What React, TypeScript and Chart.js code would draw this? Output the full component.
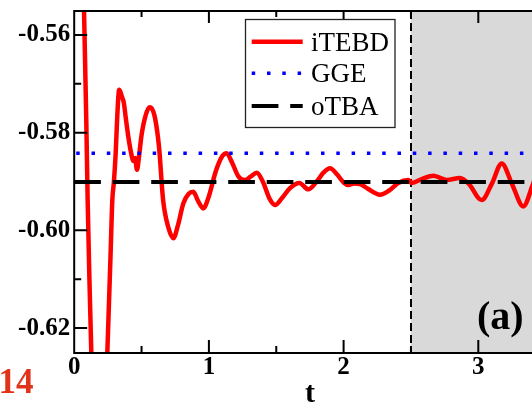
import React, { useEffect, useRef } from "react";
import { Chart, registerables } from "chart.js";

Chart.register(...registerables);

// ---- data ----
const tValues = [
  0, 0.04, 0.073, 0.09, 0.1, 0.113, 0.127, 0.15, 0.175, 0.2, 0.225, 0.246, 0.27, 0.283, 0.295, 0.308,
  0.32, 0.334, 0.345, 0.355, 0.368, 0.382, 0.4, 0.42, 0.44, 0.452, 0.466, 0.48, 0.5, 0.53, 0.56, 0.575,
  0.6, 0.63, 0.66, 0.7, 0.736, 0.77, 0.81, 0.85, 0.884, 0.92, 0.958, 1.0, 1.05, 1.1, 1.132, 1.17,
  1.22, 1.268, 1.31, 1.355, 1.4, 1.45, 1.491, 1.54, 1.6, 1.671, 1.738, 1.8, 1.85, 1.899, 1.95, 2.0,
  2.035, 2.08, 2.122, 2.18, 2.27, 2.34, 2.406, 2.48, 2.506, 2.58, 2.667, 2.72, 2.765, 2.864, 2.93,
  3.025, 3.1, 3.174, 3.25, 3.334, 3.4, 3.45,
];
const iTEBDValues = [
  -0.47, -0.51, -0.5551, -0.578, -0.594, -0.61, -0.625, -0.648, -0.66, -0.657, -0.642, -0.625, -0.605,
  -0.5938, -0.59, -0.5842, -0.5765, -0.5712, -0.5718, -0.5727, -0.5738, -0.5768, -0.5805, -0.5838, -0.5858,
  -0.5852, -0.5876, -0.5852, -0.5805, -0.5765, -0.5748, -0.575, -0.577, -0.583, -0.5938, -0.5995, -0.6016,
  -0.599, -0.5945, -0.5925, -0.5921, -0.594, -0.5955, -0.593, -0.588, -0.5848, -0.5842, -0.586, -0.589,
  -0.5897, -0.589, -0.5882, -0.59, -0.5935, -0.5948, -0.5935, -0.5914, -0.5903, -0.5916, -0.59,
  -0.5882, -0.5873, -0.5885, -0.5902, -0.5907, -0.5904, -0.5905, -0.5915, -0.5927, -0.5918, -0.5903,
  -0.5897, -0.5903, -0.5895, -0.5888, -0.5893, -0.5897, -0.5893, -0.5905, -0.5938, -0.5905, -0.5863,
  -0.5905, -0.5951, -0.591, -0.587,
];
const ggeLevel = -0.5842;
const otbaLevel = -0.5901;
const seriesLabels = ["iTEBD", "GGE", "oTBA"];
const xTicks = [0, 1, 2, 3];
const xMinorTicks = [0.5, 1.5, 2.5, 3.5];
const yTicks = [-0.62, -0.6, -0.58, -0.56];
const yMinorTicks = [-0.61, -0.59, -0.57];
const shadeFrom = 2.5;
const panelLabel = "(a)";
const pageNumber = "14";
const xTitle = "t";

const SERIF = "'Liberation Serif', 'Times New Roman', serif";

const decor = {
  id: "decor",
  beforeDraw(chart: any) {
    const { ctx, chartArea: a, scales } = chart;
    const xs = scales.x.getPixelForValue(shadeFrom);
    ctx.save();
    ctx.fillStyle = "#d9d9d9";
    ctx.fillRect(xs, a.top, a.right - xs, a.bottom - a.top);
    ctx.restore();
  },
  beforeDatasetsDraw(chart: any) {
    const { ctx, chartArea: a, scales } = chart;
    const xs = Math.round(scales.x.getPixelForValue(shadeFrom));
    ctx.save();
    ctx.strokeStyle = "#000";
    ctx.lineWidth = 2;
    ctx.setLineDash([8, 4]);
    ctx.beginPath();
    ctx.moveTo(xs, a.top);
    ctx.lineTo(xs, a.bottom);
    ctx.stroke();
    ctx.restore();
  },
  afterDraw(chart: any) {
    const { ctx, chartArea: a, scales } = chart;
    const x = scales.x;
    const y = scales.y;
    ctx.save();
    ctx.strokeStyle = "#000";
    ctx.lineWidth = 2;
    ctx.setLineDash([]);
    ctx.beginPath();
    // axes frame
    ctx.moveTo(a.left, a.top);
    ctx.lineTo(a.left, a.bottom);
    ctx.moveTo(a.left - 1, a.bottom);
    ctx.lineTo(a.right, a.bottom);
    ctx.moveTo(a.left - 1, a.top);
    ctx.lineTo(a.right, a.top);
    ctx.moveTo(a.right, a.top);
    ctx.lineTo(a.right, a.bottom);
    // ticks
    xTicks.forEach((v) => {
      const px = x.getPixelForValue(v);
      ctx.moveTo(px, a.bottom);
      ctx.lineTo(px, a.bottom - 13);
      ctx.moveTo(px, a.top);
      ctx.lineTo(px, a.top + 12);
    });
    xMinorTicks.forEach((v) => {
      const px = x.getPixelForValue(v);
      ctx.moveTo(px, a.bottom);
      ctx.lineTo(px, a.bottom - 7);
      ctx.moveTo(px, a.top);
      ctx.lineTo(px, a.top + 6);
    });
    yTicks.forEach((v) => {
      const py = y.getPixelForValue(v);
      ctx.moveTo(a.left, py);
      ctx.lineTo(a.left + 13, py);
    });
    yMinorTicks.forEach((v) => {
      const py = y.getPixelForValue(v);
      ctx.moveTo(a.left, py);
      ctx.lineTo(a.left + 7, py);
    });
    ctx.stroke();

    // legend
    const bx = 245.5, by = 19.5, bw = 149.5, bh = 108;
    ctx.fillStyle = "#fff";
    ctx.fillRect(bx, by, bw, bh);
    ctx.lineWidth = 1.3;
    ctx.strokeStyle = "#222";
    ctx.strokeRect(bx, by, bw, bh);
    const rows = [41.7, 73.3, 106];
    chart.data.datasets.forEach((ds: any, i: number) => {
      const ry = rows[i];
      ctx.save();
      ctx.strokeStyle = ds.borderColor;
      ctx.lineWidth = ds.borderWidth;
      ctx.lineCap = "butt";
      ctx.setLineDash(ds.borderDash || []);
      ctx.beginPath();
      ctx.moveTo(251.7, ry);
      ctx.lineTo(302.7, ry);
      ctx.stroke();
      ctx.restore();
      ctx.fillStyle = "#000";
      ctx.font = `27px ${SERIF}`;
      ctx.textAlign = "left";
      ctx.textBaseline = "alphabetic";
      ctx.fillText(ds.label, 311, ry + 9);
    });

    // panel label
    ctx.fillStyle = "#000";
    ctx.font = `bold 40px ${SERIF}`;
    ctx.textAlign = "left";
    ctx.textBaseline = "alphabetic";
    ctx.fillText(panelLabel, 477, 328.5);

    // page number fragment
    ctx.fillStyle = "#e0331a";
    ctx.font = `bold 35px ${SERIF}`;
    ctx.fillText(pageNumber, -1.5, 392.7);
    ctx.restore();
  },
};

export default function App() {
  const ref = useRef<HTMLCanvasElement | null>(null);

  useEffect(() => {
    if (!ref.current) return;
    const tickFont = { family: SERIF, weight: "bold" as const, size: 25 };
    const chart = new Chart(ref.current, {
      type: "line",
      data: {
        datasets: [
          {
            label: seriesLabels[0],
            data: tValues.map((t, i) => ({ x: t, y: iTEBDValues[i] })),
            borderColor: "#ff0000",
            borderWidth: 4.5,
            pointRadius: 0,
            cubicInterpolationMode: "monotone",
            order: 3,
          },
          {
            label: seriesLabels[1],
            data: [
              { x: 0, y: ggeLevel },
              { x: 3.5, y: ggeLevel },
            ],
            borderColor: "#0000ff",
            borderWidth: 3.5,
            borderDash: [3.5, 11.8],
            borderDashOffset: -2,
            borderCapStyle: "butt",
            pointRadius: 0,
            order: 2,
          } as any,
          {
            label: seriesLabels[2],
            data: [
              { x: 0, y: otbaLevel },
              { x: 3.5, y: otbaLevel },
            ],
            borderColor: "#000000",
            borderWidth: 4,
            borderDash: [26.7, 11.8],
            borderCapStyle: "butt",
            pointRadius: 0,
            order: 1,
          },
        ],
      },
      options: {
        responsive: false,
        animation: false,
        devicePixelRatio: 1,
        layout: { padding: { top: 11, right: 14.35, left: 0, bottom: 0 } },
        plugins: { legend: { display: false }, tooltip: { enabled: false } },
        scales: {
          x: {
            type: "linear",
            min: 0,
            max: 3.5,
            grid: { display: false, drawTicks: false },
            border: { display: false },
            ticks: { font: tickFont, color: "#000", padding: 0, maxRotation: 0, autoSkip: false },
            afterBuildTicks: (s: any) => {
              s.ticks = xTicks.map((v) => ({ value: v }));
            },
            afterFit: (s: any) => {
              s.height = 49;
              s.paddingLeft = 0;
              s.paddingRight = 0;
            },
            title: {
              display: true,
              text: xTitle,
              color: "#000",
              font: { family: SERIF, weight: "bold", size: 30 },
              padding: { top: 0, bottom: -10 },
            },
          },
          y: {
            type: "linear",
            min: -0.6251,
            max: -0.5551,
            grid: { display: false, drawTicks: false },
            border: { display: false },
            ticks: {
              font: tickFont,
              color: "#000",
              padding: 4,
              autoSkip: false,
              callback: (v: any) => Number(v).toFixed(2),
            },
            afterBuildTicks: (s: any) => {
              s.ticks = yTicks.map((v) => ({ value: v }));
            },
            afterFit: (s: any) => {
              s.width = 74.2;
              s.paddingTop = 0;
              s.paddingBottom = 0;
            },
          },
        },
      },
      plugins: [decor],
    } as any);
    return () => chart.destroy();
  }, []);

  return (
    <div
      style={{
        position: "absolute",
        left: 0,
        top: 0,
        width: 532,
        height: 402,
        overflow: "hidden",
        background: "#fff",
      }}
    >
      <canvas ref={ref} width={560} height={402} style={{ width: 560, height: 402, display: "block" }} />
    </div>
  );
}
